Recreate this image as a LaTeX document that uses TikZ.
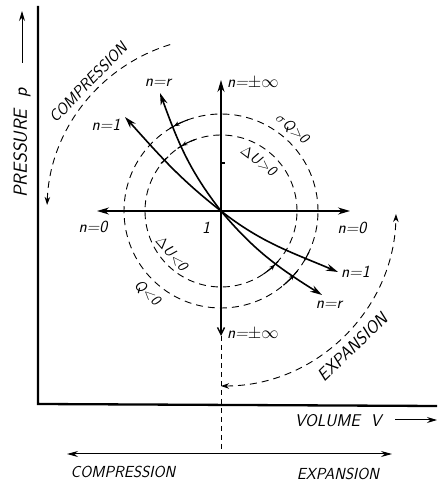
\documentclass[tikz,border=0pt]{standalone}
\usepackage{fontspec}
\usetikzlibrary{arrows.meta,calc}
\tikzset{
  bigtip/.tip={Stealth[length=12pt,width=7pt]},
  smalltip/.tip={Stealth[length=8pt,width=5.5pt]},
  minitip/.tip={Stealth[length=5.5pt,width=4.5pt]}
}
\begin{document}
\begin{tikzpicture}[x=1pt,y=1pt,
  lbl/.style={font=\sffamily\slshape\fontsize{17}{17}\selectfont, inner sep=0pt},
  sml/.style={font=\sffamily\slshape\fontsize{15}{15}\selectfont, inner sep=0pt},
  ax/.style={line width=2.3pt},
  naxis/.style={line width=1.4pt},
  crv/.style={line width=1.6pt},
  dsh/.style={line width=0.9pt, dash pattern=on 7pt off 5pt},
  thinarr/.style={line width=1pt},
  tick/.style={line width=1.1pt}
]
\useasboundingbox (0,0) rectangle (440,487);
\coordinate (C) at (221,276);
% main axes
\coordinate (ptop) at (38,481);
\coordinate (O) at (38,83);
\coordinate (vend) at (437,81);
\draw[ax] (ptop) -- (O) -- (vend);
% circles
\draw[dsh] (C) circle[radius=76pt];
\draw[dsh] (C) circle[radius=97pt];
% n axes
\coordinate (ntop) at (221,407);
\coordinate (nbot) at (221,151);
\coordinate (nleft) at (97,276);
\coordinate (nright) at (350,276);
\coordinate (dbot) at (221,33);
\draw[naxis, -{bigtip}] (C) -- (ntop);
\draw[naxis, -{Straight Barb[length=7pt,width=7pt]}] (C) -- (nbot);
\draw[naxis, {bigtip}-{bigtip}] (nleft) -- (nright);
\draw[line width=0.8pt, dash pattern=on 5pt off 4pt] (nbot) -- (dbot);
\draw[tick] (221,324) -- (225,324);
% polytropic curves
\coordinate (n1up) at (125,370);
\coordinate (n1lo) at (338,215);
\coordinate (nrup) at (160,394);
\coordinate (nrlo) at (322,192);
\draw[crv, {bigtip}-{bigtip}] (n1up) to[out=-48,in=142] (C) to[out=-38,in=157] (n1lo);
\draw[crv, {bigtip}-{bigtip}] (nrup) to[out=-70,in=128] (C) to[out=-50,in=148] (nrlo);
% marks on circles at n=r crossings
\draw[tick, -{minitip}] ([shift={(110:97)}]C) arc[start angle=110, end angle=119, radius=97pt];
\draw[tick, -{minitip}] ([shift={(110:76)}]C) arc[start angle=110, end angle=121, radius=76pt];
\draw[tick, -{minitip}] ([shift={(-56:76)}]C) arc[start angle=-56, end angle=-45, radius=76pt];
\draw[tick, -{minitip}] ([shift={(-50:97)}]C) arc[start angle=-50, end angle=-41, radius=97pt];
\draw[tick] ($(C)+(119:97)+(29:5)$) -- ($(C)+(119:97)+(209:5)$);
\draw[tick] ($(C)+(121:76)+(31:5)$) -- ($(C)+(121:76)+(211:5)$);
\draw[tick] ($(C)+(-45:76)+(45:5)$) -- ($(C)+(-45:76)+(225:5)$);
\draw[tick] ($(C)+(-41:97)+(49:5)$) -- ($(C)+(-41:97)+(229:5)$);
% ticks on n=1
\draw[tick] ($(C)+(138:76)+(43:5)$) -- ($(C)+(138:76)+(223:5)$);
\draw[tick] ($(C)+(-28:97)+(62:5)$) -- ($(C)+(-28:97)+(242:5)$);
% big dashed arcs
\draw[dsh, -{smalltip}] ([shift={(107:174)}]C) arc[start angle=107, end angle=178, radius=174pt];
\draw[dsh, {smalltip}-{smalltip}] ([shift={(-90:175)}]C) arc[start angle=-90, end angle=-1, radius=175pt];
% bottom double arrow
\coordinate (bl) at (67,33);
\coordinate (br) at (392,33);
\draw[thinarr, {Stealth[length=11pt,width=6pt]}-{Stealth[length=11pt,width=6pt]}] (bl) -- (br);
% axis arrows
\coordinate (va) at (395,67);
\coordinate (vb) at (437,67);
\draw[thinarr, -{Stealth[length=10pt,width=6pt]}] (va) -- (vb);
\coordinate (pa) at (22,424);
\coordinate (pb) at (22,476);
\draw[thinarr, -{Stealth[length=10pt,width=6pt]}] (pa) -- (pb);
% labels
\node[lbl, anchor=west] (lntop) at (227,404) {n=$\pm\infty$};
\node[lbl] (lnrtop) at (158,404) {n=r};
\node[lbl] (ln1top) at (106,362) {n=1};
\node[lbl] (ln0l) at (93,260) {n=0};
\node[lbl] (lone) at (206,259) {1};
\node[lbl] (ln0r) at (352,259) {n=0};
\node[lbl, anchor=west] (ln1r) at (341,215) {n=1};
\node[lbl] (lnrr) at (329,182) {n=r};
\node[lbl, anchor=west] (lnbot) at (227,153) {n=$\pm\infty$};
\node[sml, rotate=-37] (lduup) at ([shift={(53:63)}]C) {$\Delta$U>0};
\node[sml, rotate=-41] (ldqup) at ([shift={(49:109)}]C) {$\sigma$Q>0};
\node[sml, rotate=-49] (ldulo) at ([shift={(221:65)}]C) {$\Delta$U<0};
\node[sml, rotate=-42] (lqlo) at ([shift={(228:110)}]C) {Q<0};
\node[font=\sffamily\slshape\fontsize{16}{16}\selectfont, inner sep=0pt, rotate=46] (lcomp) at ([shift={(136:185)}]C) {COMPRESSION};
\node[font=\sffamily\slshape\fontsize{17.5}{17.5}\selectfont, inner sep=0pt, rotate=44] (lexp) at ([shift={(-46:189)}]C) {EXPANSION};
\node[font=\sffamily\slshape\fontsize{17}{17}\selectfont, inner sep=0pt] (lvol) at (338,66) {VOLUME\ \ V};
\node[font=\sffamily\slshape\fontsize{19}{19}\selectfont, inner sep=0pt, rotate=90] (lpres) at (22,344) {PRESSURE\ \ p};
\node[font=\sffamily\slshape\fontsize{16}{16}\selectfont, inner sep=0pt] (lbcomp) at (123,15) {COMPRESSION};
\node[font=\sffamily\slshape\fontsize{16}{16}\selectfont, inner sep=0pt] (lbexp) at (338,13) {EXPANSION};
\end{tikzpicture}
\end{document}
